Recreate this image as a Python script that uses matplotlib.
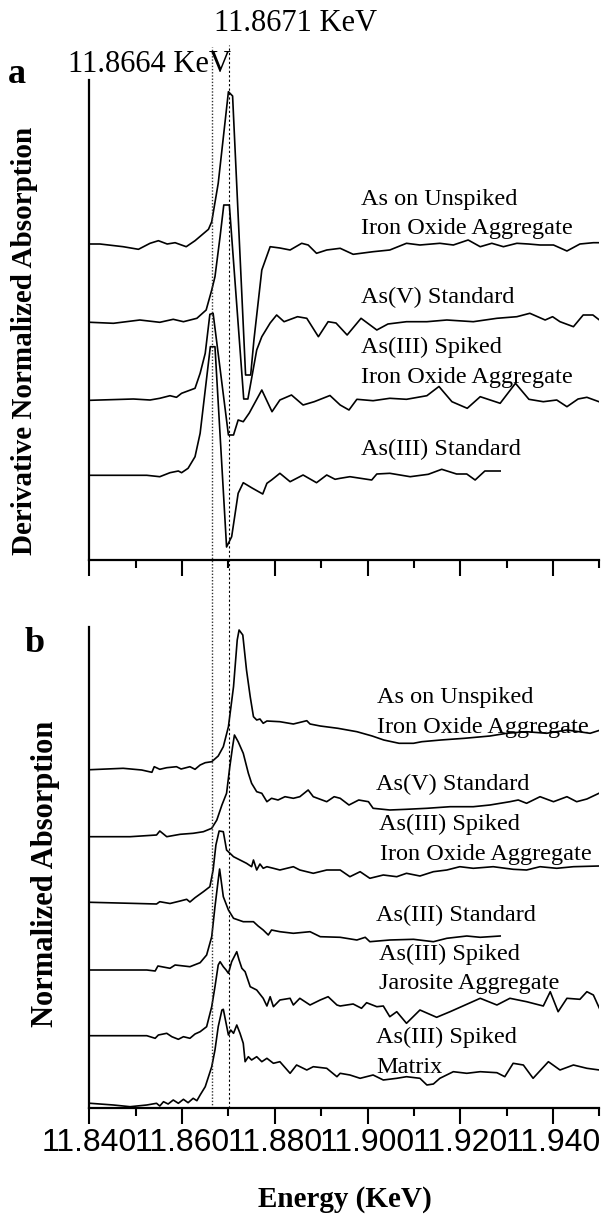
import matplotlib
matplotlib.use("Agg")
import matplotlib.pyplot as plt
import matplotlib.transforms as mtransforms
from matplotlib.ticker import MultipleLocator, FormatStrFormatter

# ---- data: energies (KeV) and stacked intensities (arbitrary units) ----
# panel a: derivative spectra
a_unspiked_e = [11.8402, 11.8423, 11.8473, 11.8506, 11.8531, 11.8549, 11.8568, 11.8585, 11.8609, 11.8628,
                11.8657, 11.8664, 11.8678, 11.8700, 11.8709, 11.8737, 11.8748, 11.8755, 11.8772, 11.8790,
                11.8811, 11.8833, 11.8858, 11.8872, 11.8890, 11.8912, 11.8941, 11.8969, 11.9012, 11.9048,
                11.9084, 11.9113, 11.9156, 11.9185, 11.9217, 11.9243, 11.9268, 11.9293, 11.9322, 11.9347,
                11.9372, 11.9401, 11.9430, 11.9458, 11.9487, 11.9501]
a_unspiked_y = [316, 316, 313.3, 310.7, 316.7, 319.3, 316, 317.3, 313.3, 319.3,
                330.7, 338.3, 376.7, 468.3, 464, 185, 185, 220, 290, 313.3,
                312, 310, 316.7, 315, 306.7, 310, 311.7, 305.7, 308.3, 310,
                316.7, 315, 316.7, 315, 320, 313.3, 316.7, 313.3, 316.7, 316,
                315, 315, 309, 316, 317.3, 317.3]

a_as5_e = [11.8402, 11.8452, 11.8509, 11.8552, 11.8581, 11.8603, 11.8632, 11.8652, 11.8664, 11.8671,
           11.8682, 11.8690, 11.8702, 11.8733, 11.8742, 11.8761, 11.8772, 11.8790, 11.8804, 11.8820,
           11.8849, 11.8869, 11.8894, 11.8915, 11.8932, 11.8956, 11.8986, 11.9020, 11.9044, 11.9084,
           11.9128, 11.9171, 11.9228, 11.9279, 11.9322, 11.9350, 11.9383, 11.9399, 11.9415, 11.9444,
           11.9465, 11.9486, 11.9500]
a_as5_y = [237.7, 236.7, 240, 237.7, 240.7, 238.3, 241.7, 250, 270, 283.3,
           323.3, 355, 355, 161, 161, 210, 223.3, 237, 245, 238.3,
           243.3, 241.7, 223.3, 238.3, 237, 225, 241.7, 230, 236, 238.3,
           238.3, 240, 238.3, 241.7, 243.3, 246.7, 240, 243.3, 238.3, 233.3,
           245, 245, 240]

a_as3_spiked_e = [11.8402, 11.8495, 11.8531, 11.8552, 11.8574, 11.8588, 11.8599, 11.8628, 11.8639, 11.8650,
                  11.8660, 11.8667, 11.8700, 11.8711, 11.8721, 11.8732, 11.8745, 11.8772, 11.8794, 11.8811,
                  11.8836, 11.8861, 11.8885, 11.8919, 11.8941, 11.8960, 11.8977, 11.9012, 11.9048, 11.9084,
                  11.9128, 11.9154, 11.9182, 11.9215, 11.9243, 11.9286, 11.9319, 11.9348, 11.9379, 11.9408,
                  11.9430, 11.9454, 11.9473, 11.9499]
a_as3_spiked_y = [159.7, 161, 160, 161.7, 164.3, 162.7, 166.7, 171.7, 186.7, 206.7,
                  245.7, 246.7, 125, 125, 140, 138.3, 147, 170, 148.3, 160,
                  165, 155, 158.3, 164.5, 155, 150, 160.7, 159.3, 161.7, 160.7,
                  164.3, 173.5, 158.3, 151.7, 163.3, 156.7, 176.7, 160.7, 158.3, 160,
                  153.3, 161, 162.7, 158.3]

a_as3_std_e = [11.8402, 11.8524, 11.8552, 11.8574, 11.8592, 11.8599, 11.8613, 11.8628, 11.8639, 11.8650,
               11.8661, 11.8671, 11.8696, 11.8707, 11.8721, 11.8732, 11.8751, 11.8774, 11.8783, 11.8793,
               11.8811, 11.8833, 11.8861, 11.8890, 11.8912, 11.8930, 11.8941, 11.8962, 11.9009, 11.9020,
               11.9048, 11.9092, 11.9131, 11.9160, 11.9192, 11.9214, 11.9232, 11.9253, 11.9286]
a_as3_std_y = [84.7, 84.7, 83.3, 87.3, 89, 87.3, 91.7, 103.3, 126.7, 170,
               213.3, 213.3, 13, 23.3, 66.7, 77.3, 72, 66, 76.7, 80,
               86.7, 78.3, 85, 77.3, 85, 80.7, 81.7, 83.3, 80, 86,
               86.7, 83.3, 85.7, 90.7, 86, 86, 80, 89, 89]

# panel b: normalized spectra
b_unspiked_e = [11.8402, 11.8473, 11.8513, 11.8535, 11.8540, 11.8552, 11.8567, 11.8588, 11.8598, 11.8617,
                11.8628, 11.8639, 11.8650, 11.8664, 11.8678, 11.8689, 11.8700, 11.8711, 11.8719, 11.8723,
                11.8731, 11.8739, 11.8747, 11.8754, 11.8761, 11.8768, 11.8775, 11.8783, 11.8811, 11.8840,
                11.8869, 11.8876, 11.8898, 11.8936, 11.8977, 11.9010, 11.9035, 11.9068, 11.9099, 11.9117,
                11.9158, 11.9209, 11.9264, 11.9300, 11.9343, 11.9386, 11.9430, 11.9480, 11.9499]
b_unspiked_y = [338.3, 339.7, 338, 335.7, 341.3, 338.7, 340.3, 341.3, 339, 341.3,
                338.7, 343, 345.3, 346.3, 352, 361.3, 381.3, 421.3, 468, 478,
                473, 438, 411.3, 391.3, 388, 389, 384.7, 387, 386.3, 384,
                387.3, 384, 382, 379.7, 376.3, 372, 368, 364.7, 364.7, 366.3,
                368, 369.7, 372, 374.7, 376.3, 374.7, 378, 374.7, 377.5]

b_as5_e = [11.8402, 11.8488, 11.8545, 11.8552, 11.8567, 11.8596, 11.8624, 11.8646, 11.8664, 11.8675,
           11.8686, 11.8696, 11.8703, 11.8709, 11.8713, 11.8721, 11.8732, 11.8743, 11.8750, 11.8761,
           11.8772, 11.8783, 11.8793, 11.8807, 11.8822, 11.8840, 11.8854, 11.8872, 11.8883, 11.8912,
           11.8928, 11.8941, 11.8960, 11.8981, 11.9002, 11.9012, 11.9048, 11.9084, 11.9128, 11.9178,
           11.9228, 11.9264, 11.9307, 11.9325, 11.9343, 11.9372, 11.9401, 11.9430, 11.9451, 11.9473,
           11.9499]
b_as5_y = [271.3, 271.3, 273, 277, 271.3, 273.7, 274.7, 276.3, 279.7, 288,
           303, 314.7, 341.3, 361.3, 373, 366.3, 354.7, 334.7, 324.7, 316.3,
           314.7, 306.3, 309.7, 308, 311.3, 309.7, 311.3, 318, 311.3, 306.3,
           311.3, 309.7, 303, 308, 306.3, 299.7, 298, 298.7, 299.7, 301.3,
           301.3, 303, 306.3, 308, 304.7, 311.3, 306.3, 311.3, 306.3, 309,
           314.7]

b_as3_spiked_e = [11.8402, 11.8488, 11.8545, 11.8552, 11.8574, 11.8596, 11.8610, 11.8617, 11.8628, 11.8646,
                  11.8660, 11.8667, 11.8673, 11.8680, 11.8689, 11.8696, 11.8711, 11.8725, 11.8739, 11.8750,
                  11.8754, 11.8761, 11.8768, 11.8775, 11.8783, 11.8797, 11.8811, 11.8840, 11.8854, 11.8883,
                  11.8912, 11.8941, 11.8962, 11.8984, 11.9005, 11.9034, 11.9063, 11.9084, 11.9113, 11.9142,
                  11.9171, 11.9199, 11.9228, 11.9271, 11.9314, 11.9343, 11.9372, 11.9408, 11.9444, 11.9499]
b_as3_spiked_y = [205.7, 204.7, 204, 206.3, 204.5, 207, 208.7, 206, 210.3, 216.3,
                  221.3, 238, 263, 277, 276.3, 258, 251.3, 248, 244.7, 241.3,
                  248, 238, 244, 239.7, 241.3, 239.7, 238, 241.3, 238, 234.7,
                  238, 238, 231.3, 236.3, 229.7, 233, 231.3, 234.7, 232, 236.3,
                  238, 241.3, 239.7, 241.3, 238.7, 238, 241.3, 239.7, 241.3, 242]

b_as3_std_e = [11.8402, 11.8524, 11.8542, 11.8548, 11.8574, 11.8585, 11.8617, 11.8639, 11.8653, 11.8664,
               11.8671, 11.8678, 11.8681, 11.8689, 11.8700, 11.8711, 11.8732, 11.8754, 11.8764, 11.8775,
               11.8786, 11.8793, 11.8811, 11.8840, 11.8876, 11.8898, 11.8941, 11.8977, 11.8995, 11.9005,
               11.9048, 11.9099, 11.9142, 11.9171, 11.9214, 11.9243, 11.9286]
b_as3_std_y = [138, 138, 137, 142, 139.7, 143, 141.3, 145.3, 153, 171.3,
               201.3, 228, 239, 211.3, 198, 189.7, 186.3, 186.3, 182, 178,
               173, 178, 176.3, 174.7, 176.3, 171.3, 170.7, 168, 170.7, 166.3,
               168, 168.7, 166.3, 169.7, 172, 170.7, 172]

b_jarosite_e = [11.8402, 11.8524, 11.8542, 11.8549, 11.8567, 11.8578, 11.8592, 11.8603, 11.8617, 11.8628,
                11.8639, 11.8653, 11.8664, 11.8671, 11.8678, 11.8682, 11.8689, 11.8695, 11.8700, 11.8707,
                11.8718, 11.8723, 11.8729, 11.8736, 11.8747, 11.8761, 11.8775, 11.8783, 11.8790, 11.8797,
                11.8811, 11.8833, 11.8840, 11.8854, 11.8876, 11.8898, 11.8915, 11.8934, 11.8941, 11.8969,
                11.8987, 11.8998, 11.9020, 11.9034, 11.9048, 11.9063, 11.9084, 11.9113, 11.9149, 11.9178,
                11.9243, 11.9279, 11.9307, 11.9343, 11.9379, 11.9394, 11.9411, 11.9430, 11.9458, 11.9473,
                11.9487, 11.9500]
b_jarosite_y = [72.3, 72.3, 69.7, 73, 74.7, 71.3, 68.7, 71.3, 69.7, 74,
                76.3, 81.3, 101.3, 121.3, 143, 146.3, 141.3, 138, 134.7, 146.3,
                156.3, 148, 139.7, 136.3, 121.3, 118, 109.7, 102, 111.3, 101.3,
                108, 109.7, 103, 109.7, 103, 108, 111.3, 103, 102, 104,
                99.7, 105.3, 101.3, 102, 91.3, 96.3, 84.7, 98, 90.7, 96.3,
                109.7, 103, 109.7, 106.3, 102, 116.3, 96.3, 109.7, 108.7, 116.3,
                113, 99.7]

b_matrix_e = [11.8402, 11.8452, 11.8488, 11.8524, 11.8545, 11.8552, 11.8560, 11.8570, 11.8581, 11.8592,
              11.8603, 11.8613, 11.8624, 11.8632, 11.8639, 11.8650, 11.8657, 11.8664, 11.8671, 11.8678,
              11.8686, 11.8689, 11.8695, 11.8700, 11.8705, 11.8711, 11.8718, 11.8725, 11.8732, 11.8736,
              11.8743, 11.8750, 11.8761, 11.8772, 11.8783, 11.8797, 11.8811, 11.8833, 11.8847, 11.8869,
              11.8883, 11.8912, 11.8934, 11.8941, 11.8962, 11.8984, 11.9012, 11.9034, 11.9063, 11.9084,
              11.9113, 11.9128, 11.9142, 11.9156, 11.9185, 11.9214, 11.9243, 11.9279, 11.9296, 11.9314,
              11.9336, 11.9357, 11.9390, 11.9415, 11.9444, 11.9473, 11.9500]
b_matrix_y = [4.7, 3, 1.3, 3, 4.7, 2, 6.3, 4, 8, 4.7,
              8.7, 5.3, 9.7, 7.3, 13, 21.3, 31.3, 41.3, 58, 81.3,
              98, 98.7, 84.7, 73, 78, 74.7, 83, 74.7, 64.7, 46.3,
              51.3, 48, 51.3, 46.3, 49.7, 44.7, 46.3, 34.7, 43, 38,
              41.3, 39.7, 31.3, 34.7, 33, 29.7, 33, 28, 29.7, 31.3,
              29.7, 23, 24, 29.7, 36.3, 34.7, 36.3, 35.3, 31.3, 44.7,
              43, 29.7, 46.3, 38, 43, 39.7, 38]

# edge markers (KeV) and their captions
edge_lines = [11.8665, 11.8701]
edge_texts = ['11.8664 KeV', '11.8671 KeV']

# curve captions: (text, x in KeV, y baseline)
labels_a = [('As on Unspiked', 11.8985, 355), ('Iron Oxide Aggregate', 11.8985, 326),
            ('As(V) Standard', 11.8985, 256.7), ('As(III) Spiked', 11.8985, 206.7),
            ('Iron Oxide Aggregate', 11.8985, 176.7), ('As(III) Standard', 11.8985, 105)]
labels_b = [('As on Unspiked', 11.9020, 405.3), ('Iron Oxide Aggregate', 11.9020, 374.7),
            ('As(V) Standard', 11.9018, 318), ('As(III) Spiked', 11.9025, 278),
            ('Iron Oxide Aggregate', 11.9027, 248), ('As(III) Standard', 11.9018, 187.3),
            ('As(III) Spiked', 11.9025, 148), ('Jarosite Aggregate', 11.9025, 118.7),
            ('As(III) Spiked', 11.9018, 65.3), ('Matrix', 11.9018, 34.7)]

curves_a = [(a_unspiked_e, a_unspiked_y), (a_as5_e, a_as5_y),
            (a_as3_spiked_e, a_as3_spiked_y), (a_as3_std_e, a_as3_std_y)]
curves_b = [(b_unspiked_e, b_unspiked_y), (b_as5_e, b_as5_y),
            (b_as3_spiked_e, b_as3_spiked_y), (b_as3_std_e, b_as3_std_y),
            (b_jarosite_e, b_jarosite_y), (b_matrix_e, b_matrix_y)]

W, H = 601, 1216
serif = ['Liberation Serif', 'DejaVu Serif']
sans = ['Liberation Sans', 'DejaVu Sans']

fig = plt.figure(figsize=(W / 100, H / 100), dpi=100)
ax_a = fig.add_axes([89.3 / W, 1 - 560 / H, 510.1 / W, 480 / H])
ax_b = fig.add_axes([89.3 / W, 1 - 1108 / H, 510.1 / W, 481 / H])

for ax, curves, labels, ytop in [(ax_a, curves_a, labels_a, 480), (ax_b, curves_b, labels_b, 481)]:
    for e, y in curves:
        ax.plot(e, y, color='black', lw=1.2)
    for txt, x, y in labels:
        ax.text(x, y, txt, fontsize=17.5, family=serif, ha='left', va='baseline')
    ax.set_xlim(11.84, 11.95)
    ax.set_ylim(0, ytop)
    ax.spines['top'].set_visible(False)
    ax.spines['right'].set_visible(False)
    ax.spines['left'].set_linewidth(1.6)
    ax.spines['bottom'].set_linewidth(1.6)
    ax.set_yticks([])
    ax.xaxis.set_major_locator(MultipleLocator(0.02))
    ax.xaxis.set_minor_locator(MultipleLocator(0.01))
    ax.tick_params(axis='x', which='major', direction='out', length=11.5, width=1.5)
    ax.tick_params(axis='x', which='minor', direction='out', length=6, width=1.5)

ax_a.tick_params(axis='x', which='both', labelbottom=False)
ax_b.xaxis.set_major_formatter(FormatStrFormatter('%.3f'))
ax_b.tick_params(axis='x', which='major', pad=3)
for lbl in ax_b.get_xticklabels():
    lbl.set_fontsize(23)
    lbl.set_family(sans)

# dotted edge lines running through both panels
trans = mtransforms.blended_transform_factory(ax_b.transData, fig.transFigure)
ax_b.plot([edge_lines[0]] * 2, [1 - 1108 / H, 1 - 47 / H], transform=trans, clip_on=False,
          color='#333333', lw=1.0, ls=(0, (1, 1.3)))
ax_b.plot([edge_lines[1]] * 2, [1 - 1108 / H, 1 - 45 / H], transform=trans, clip_on=False,
          color='black', lw=0.8, ls=(0, (2, 2)))

fig.text(149 / W, 1 - 71.7 / H, edge_texts[0], fontsize=22, family=serif, ha='center', va='baseline')
fig.text(296 / W, 1 - 30.7 / H, edge_texts[1], fontsize=22, family=serif, ha='center', va='baseline')

fig.text(8 / W, 1 - 83.3 / H, 'a', fontsize=26, fontweight='bold', family=serif, ha='left', va='baseline')
fig.text(25 / W, 1 - 651.7 / H, 'b', fontsize=26, fontweight='bold', family=serif, ha='left', va='baseline')

fig.text(25 / W, 1 - 341 / H, 'Derivative Normalized Absorption', fontsize=21, fontweight='bold',
         family=serif, rotation=90, ha='center', va='center')
fig.text(46 / W, 1 - 874 / H, 'Normalized Absorption', fontsize=22, fontweight='bold',
         family=serif, rotation=90, ha='center', va='center')
fig.text(344.5 / W, 1 - 1206.5 / H, 'Energy (KeV)', fontsize=21, fontweight='bold',
         family=serif, ha='center', va='baseline')

fig.savefig('out.png', dpi=100)
